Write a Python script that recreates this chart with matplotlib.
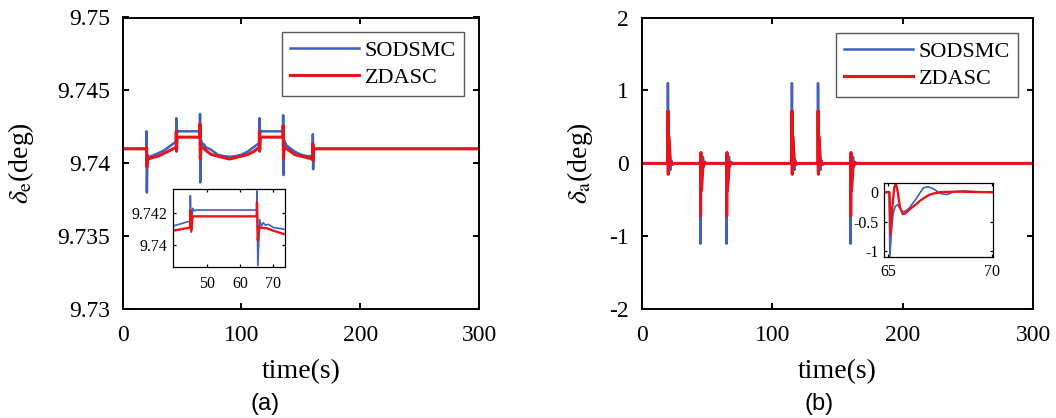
#!/usr/bin/env python3
from matplotlib import pyplot as plt
import numpy as np

# ---- data ------------------------------------------------------------------
# panel (a): elevator deflection, slow part (knots) + spikes at each event
events_a = [20, 45, 65, 115, 135, 160]
sod_hi_a = [9.7422, 9.7431, 9.7434, 9.7431, 9.7433, 9.7420]
sod_lo_a = [9.7380, 9.7408, 9.7387, 9.7408, 9.7392, 9.7396]
zda_hi_a = [9.7411, 9.7422, 9.7427, 9.7422, 9.7426, 9.74135]
zda_lo_a = [9.73975, 9.7409, 9.7403, 9.7409, 9.7403, 9.7402]

sod_t_a = [0, 20, 20.8, 21.5, 25, 30, 35, 40, 45,
           45.8, 46.3, 47, 65,
           65.9, 66.4, 67.0, 67.6, 68.5, 70, 73, 75, 80, 85, 90, 95, 100,
           105, 110, 115,
           115.8, 116.3, 117, 135,
           135.9, 136.4, 137.0, 137.6, 140, 145, 150, 155, 160,
           160.8, 161.5, 300]
sod_v_a = [9.7410, 9.7410, 9.7406, 9.74045, 9.74052, 9.7407, 9.7409, 9.7412,
           9.7415,
           9.7423, 9.74215, 9.7422, 9.7422,
           9.7416, 9.7412, 9.7414, 9.74125, 9.7413, 9.7411, 9.7410, 9.7409,
           9.7406, 9.7405, 9.74045, 9.7405, 9.7406, 9.7408, 9.7411, 9.7414,
           9.7423, 9.74215, 9.7422, 9.7422,
           9.7416, 9.7412, 9.7414, 9.74125, 9.7411, 9.7408, 9.7406, 9.7405,
           9.7405,
           9.7411, 9.7410, 9.7410]

zda_t_a = [0, 20, 20.8, 21.5, 25, 30, 35, 40, 45,
           45.8, 65,
           65.8, 68, 70, 73, 75, 80, 85, 90, 95, 100, 105, 110, 115,
           115.8, 135,
           135.8, 140, 145, 150, 155, 160,
           160.8, 300]
zda_v_a = [9.7410, 9.7410, 9.7404, 9.7403, 9.7404, 9.7405, 9.7407, 9.7409,
           9.7411,
           9.7418, 9.7418,
           9.7411, 9.74105, 9.7409, 9.7407, 9.7406, 9.7405, 9.7404, 9.7403,
           9.7404, 9.7405, 9.7406, 9.7408, 9.7411,
           9.7418, 9.7418,
           9.7411, 9.7409, 9.7406, 9.7405, 9.7404, 9.7403,
           9.7410, 9.7410]

# panel (b): aileron deflection, transient after each event
events_b = [20, 45, 65, 115, 135, 160]
signs_b = [1, -1, -1, 1, 1, -1]
sod_tr_t = [0, 0.03, 0.07, 0.15, 0.23, 0.33, 0.45, 0.55, 0.64, 0.75, 0.86,
            1.0, 1.1, 1.23, 1.36, 1.5, 1.68, 1.8, 1.92, 2.08, 2.24, 2.4,
            2.56, 2.8, 3.12, 3.6, 4.1, 4.6]
sod_tr_v = [0, 0, -1.1, -0.6, -0.35, -0.24, -0.21, -0.27, -0.32, -0.33,
            -0.31, -0.27, -0.22, -0.16, -0.1, -0.02, 0.07, 0.085, 0.09, 0.07,
            0.04, 0.0, -0.03, -0.04, 0.0, 0.02, 0.01, 0]
zda_tr_t = [0, 0.05, 0.11, 0.2, 0.28, 0.36, 0.45, 0.55, 0.69, 0.8, 0.9,
            1.05, 1.2, 1.35, 1.5, 1.67, 1.84, 2.0, 2.2, 2.5, 3.3, 4.6]
zda_tr_v = [0, 0, -0.72, -0.2, 0.08, 0.15, 0.0, -0.25, -0.37, -0.36, -0.33,
            -0.28, -0.24, -0.2, -0.15, -0.11, -0.07, -0.04, -0.02, 0.0, 0.01,
            0]

labels = ['SODSMC', 'ZDASC']
BLUE = '#3F60BE'
RED = '#E5161B'


def build_a(slow_t, slow_v, hi, lo):
    t = np.concatenate([slow_t, np.add(events_a, 0.1), np.add(events_a, 0.35)])
    v = np.concatenate([slow_v, hi, lo])
    order = np.argsort(t, kind='stable')
    return t[order], v[order]


def build_b(tr_t, tr_v):
    t, v = [0.0], [0.0]
    for e, s in zip(events_b, signs_b):
        t += list(np.add(e, tr_t))
        v += list(np.multiply(-s, tr_v))
    t.append(300.0)
    v.append(0.0)
    return np.array(t), np.array(v)


def style(ax, size, width, length, xpad, ypad):
    ax.tick_params(direction='in', top=True, right=True, labelsize=size,
                   width=width, length=length)
    ax.tick_params(axis='x', pad=xpad)
    ax.tick_params(axis='y', pad=ypad)
    for sp in ax.spines.values():
        sp.set_linewidth(width)


plt.rcParams['font.family'] = ['Liberation Serif', 'DejaVu Serif']
plt.rcParams['mathtext.fontset'] = 'stix'

fig = plt.figure(figsize=(10.56, 4.18), dpi=100)
W, H = 1056.0, 418.0
ax_a = fig.add_axes([122.7 / W, 1 - 309.3 / H, 356.3 / W, 291.8 / H])
ax_b = fig.add_axes([641.7 / W, 1 - 309.3 / H, 391.6 / W, 291.8 / H])

sod_a = build_a(sod_t_a, sod_v_a, sod_hi_a, sod_lo_a)
zda_a = build_a(zda_t_a, zda_v_a, zda_hi_a, zda_lo_a)
sod_b = build_b(sod_tr_t, sod_tr_v)
zda_b = build_b(zda_tr_t, zda_tr_v)

leg_kw = dict(loc='upper right', borderaxespad=0, fontsize=16,
              handlelength=3.1, handletextpad=0.26, borderpad=0.35,
              labelspacing=0.3, fancybox=False, framealpha=1,
              edgecolor='0.35')

# panel (a)
ax_a.plot(*sod_a, color=BLUE, lw=1.8, label=labels[0])
ax_a.plot(*zda_a, color=RED, lw=2.2, label=labels[1])
ax_a.set_xlim(0, 300)
ax_a.set_ylim(9.73, 9.75)
ax_a.set_xticks([0, 100, 200, 300])
ax_a.set_yticks([9.73, 9.735, 9.74, 9.745, 9.75])
ax_a.set_yticklabels(['9.73', '9.735', '9.74', '9.745', '9.75'])
style(ax_a, 17, 1.4, 4, 11, 9)
ax_a.set_xlabel('time(s)', fontsize=20)
ax_a.set_ylabel(r'$\delta_{\rm e}$(deg)', fontsize=20)
ax_a.xaxis.set_label_coords(0.5, -0.212)
ax_a.xaxis.label.set_va('center')
ax_a.yaxis.set_label_coords(-0.285, 0.5)
ax_a.yaxis.label.set_va('center')
ax_a.legend(bbox_to_anchor=(0.958, 0.949), **leg_kw)

# panel (b)
ax_b.plot(*sod_b, color=BLUE, lw=1.8, label=labels[0])
ax_b.plot(*zda_b, color=RED, lw=2.2, label=labels[1])
ax_b.set_xlim(0, 300)
ax_b.set_ylim(-2, 2)
ax_b.set_xticks([0, 100, 200, 300])
ax_b.set_yticks([-2, -1, 0, 1, 2])
ax_b.set_yticklabels(['-2', '-1', '0', '1', '2'])
style(ax_b, 17, 1.4, 4, 11, 9)
ax_b.set_xlabel('time(s)', fontsize=20)
ax_b.set_ylabel(r'$\delta_{\rm a}$(deg)', fontsize=20)
ax_b.xaxis.set_label_coords(0.5, -0.212)
ax_b.xaxis.label.set_va('center')
ax_b.yaxis.set_label_coords(-0.1576, 0.5)
ax_b.yaxis.label.set_va('center')
ax_b.legend(bbox_to_anchor=(0.961, 0.9455), **leg_kw)

# inset (a)
in_a = fig.add_axes([172.7 / W, 1 - 267.3 / H, 112.3 / W, 78.0 / H])
in_a.plot(*sod_a, color=BLUE, lw=1.2)
in_a.plot(*zda_a, color=RED, lw=1.7)
in_a.set_xlim(39.8, 73.5)
in_a.set_ylim(9.7386, 9.7435)
in_a.set_xticks([50, 60, 70])
in_a.set_yticks([9.740, 9.742])
in_a.set_yticklabels(['9.74', '9.742'])
style(in_a, 11.5, 0.9, 2.5, 6, 4)

# inset (b)
in_b = fig.add_axes([884.3 / W, 1 - 257.3 / H, 109.0 / W, 74.6 / H])
in_b.plot(*sod_b, color=BLUE, lw=1.2)
in_b.plot(*zda_b, color=RED, lw=1.7)
in_b.set_xlim(64.8, 70.05)
in_b.set_ylim(-1.1, 0.16)
in_b.set_xticks([65, 70])
in_b.set_yticks([-1, -0.5, 0])
in_b.set_yticklabels(['-1', '-0.5', '0'])
style(in_b, 11.5, 0.9, 2.5, 5, 4)

fig.text(265 / W, 1 - 404 / H, '(a)', fontsize=17, family='Liberation Sans',
         ha='center', va='center')
fig.text(818.7 / W, 1 - 404 / H, '(b)', fontsize=17, family='Liberation Sans',
         ha='center', va='center')

fig.savefig('out.png', dpi=100)
